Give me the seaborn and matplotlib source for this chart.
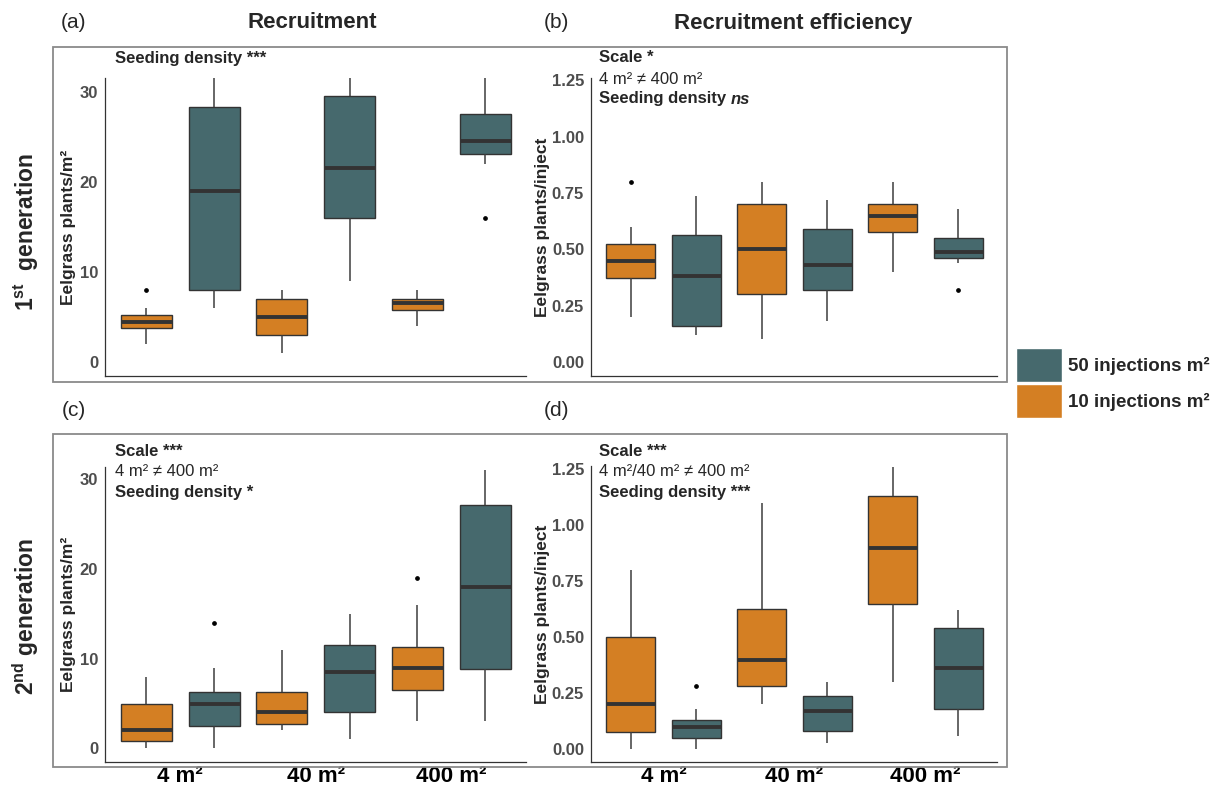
import pandas as pd
import matplotlib
matplotlib.use("Agg")
import matplotlib.pyplot as plt
from matplotlib.patches import Patch, Rectangle
import seaborn as sns

# categories
scales = ["4 m²", "40 m²", "400 m²"]
densities = ["10 injections m²", "50 injections m²"]
orange = "#D47F23"
teal = "#46696D"

# observations per box (4 m², 40 m², 400 m²), read off the figure
# (a) recruitment, 1st generation (plants/m²)
rec1_10 = [[2, 3.75, 3.75, 4.5, 4.5, 5.25, 5.25, 6, 8],
           [1, 3, 5, 7, 8],
           [4, 5.75, 6.5, 7, 8]]
rec1_50 = [[6, 8, 19, 28.3, 31.5],
           [9, 16, 21.5, 29.5, 31.5],
           [16, 22, 23.1, 24.5, 24.5, 27.5, 27.5, 27.5, 31.5]]

# (b) recruitment efficiency, 1st generation (plants/inject)
eff1_10 = [[0.2, 0.375, 0.375, 0.45, 0.45, 0.525, 0.525, 0.6, 0.8],
           [0.1, 0.3, 0.5, 0.7, 0.8],
           [0.4, 0.575, 0.65, 0.7, 0.8]]
eff1_50 = [[0.12, 0.16, 0.38, 0.565, 0.735],
           [0.18, 0.32, 0.43, 0.59, 0.72],
           [0.32, 0.44, 0.46, 0.49, 0.49, 0.55, 0.55, 0.55, 0.68]]

# (c) recruitment, 2nd generation
rec2_10 = [[0, 0.8, 2, 5, 8],
           [2, 2.75, 4, 6.25, 11],
           [3, 6.5, 6.5, 9, 9, 11.25, 11.25, 16, 19]]
rec2_50 = [[0, 2.5, 2.5, 5, 5, 6.25, 6.25, 9, 14],
           [1, 4, 8.5, 11.5, 15],
           [3, 8.8, 18, 27.1, 31]]

# (d) recruitment efficiency, 2nd generation
eff2_10 = [[0, 0.075, 0.2, 0.5, 0.8],
           [0.2, 0.28, 0.4, 0.625, 1.1],
           [0.3, 0.65, 0.9, 1.13, 1.26]]
eff2_50 = [[0, 0.05, 0.05, 0.1, 0.1, 0.13, 0.13, 0.18, 0.28],
           [0.025, 0.08, 0.17, 0.235, 0.3],
           [0.06, 0.18, 0.36, 0.54, 0.62]]

rec_ticks = [0, 10, 20, 30]
eff_ticks = [0, 0.25, 0.5, 0.75, 1.0, 1.25]


def to_long(obs10, obs50):
    rows = []
    for dens, obs in zip(densities, [obs10, obs50]):
        for sc, vals in zip(scales, obs):
            for v in vals:
                rows.append({"scale": sc, "density": dens, "value": v})
    return pd.DataFrame(rows)


sns.set_style("white")
plt.rcParams["font.family"] = ["Liberation Sans", "DejaVu Sans"]
plt.rcParams["mathtext.fontset"] = "custom"
plt.rcParams["mathtext.rm"] = "Liberation Sans"
plt.rcParams["mathtext.bf"] = "Liberation Sans:bold"

W, H = 1222, 787
fig = plt.figure(figsize=(W / 100, H / 100), dpi=100)


def rect(l, t, r, b):
    return [l / W, 1 - b / H, (r - l) / W, (b - t) / H]


def ftext(x, y, s, **kw):
    return fig.text(x / W, 1 - y / H, s, **kw)


panels = [
    (rect(105, 78.3, 525.9, 376), to_long(rec1_10, rec1_50), (-1.55, 31.5), rec_ticks,
     "Eelgrass plants/m²", -0.069, False),
    (rect(591, 78.3, 997.3, 376), to_long(eff1_10, eff1_50), (-0.062, 1.259), eff_ticks,
     "Eelgrass plants/inject", -0.102, False),
    (rect(105, 467.3, 525.9, 761.7), to_long(rec2_10, rec2_50), (-1.49, 31.34), rec_ticks,
     "Eelgrass plants/m²", -0.069, True),
    (rect(591, 466, 997.3, 762), to_long(eff2_10, eff2_50), (-0.058, 1.265), eff_ticks,
     "Eelgrass plants/inject", -0.102, True),
]

line_c = "#333333"
for pos, df, ylim, yticks, ylab, ylab_x, show_x in panels:
    ax = fig.add_axes(pos)
    sns.boxplot(data=df, x="scale", y="value", hue="density",
                order=scales, hue_order=densities,
                palette={densities[0]: orange, densities[1]: teal},
                saturation=1, width=1.0, gap=0.25, linewidth=1.0, linecolor=line_c,
                fliersize=3, legend=False, ax=ax,
                medianprops={"linewidth": 2.8, "color": line_c},
                whiskerprops={"linewidth": 1.1, "color": "#3d3d3d"},
                capprops={"visible": False},
                flierprops={"marker": "o", "markerfacecolor": "black",
                            "markeredgecolor": "black", "markersize": 2.4})
    ax.set_xlim(-0.555, 2.55)
    ax.set_ylim(*ylim)
    ax.set_yticks(yticks)
    if yticks == eff_ticks:
        ax.set_yticklabels([f"{v:.2f}" for v in yticks], fontweight="bold")
    else:
        ax.set_yticklabels([str(v) for v in yticks], fontweight="bold")
    ax.set_xticks([0, 1, 2])
    ax.set_xticklabels(scales if show_x else ["", "", ""],
                       fontsize=16, fontweight="bold", color="black")
    ax.set_xticks([-0.25, 0.25, 0.75, 1.25, 1.75, 2.25], minor=True)
    ax.tick_params(axis="x", which="major", length=0, pad=3)
    ax.tick_params(axis="x", which="minor", length=3, width=0.8, color=line_c)
    ax.tick_params(axis="y", length=3, width=0.8, color=line_c,
                   labelsize=12, labelcolor="#4D4D4D", pad=2)
    ax.set_xlabel("")
    ax.set_ylabel(ylab, fontsize=12.5, fontweight="bold")
    ax.yaxis.set_label_coords(ylab_x, 0.5)
    for s in ["top", "right"]:
        ax.spines[s].set_visible(False)
    for s in ["left", "bottom"]:
        ax.spines[s].set_color(line_c)
        ax.spines[s].set_linewidth(0.9)
    ax.set_facecolor("none")

# panel frames
for top, bot in [(47, 381.7), (433.7, 766.7)]:
    fig.add_artist(Rectangle((53.4 / W, 1 - bot / H), (1006.7 - 53.4) / W, (bot - top) / H,
                             transform=fig.transFigure, fill=False,
                             edgecolor="#8a8a8a", linewidth=1.3))

# titles and panel letters
ftext(73, 23, "(a)", fontsize=15, ha="center", va="center")
ftext(556, 23, "(b)", fontsize=15, ha="center", va="center")
ftext(73.4, 410, "(c)", fontsize=15, ha="center", va="center")
ftext(556.7, 411, "(d)", fontsize=15, ha="center", va="center")
ftext(312, 23, "Recruitment", fontsize=16, fontweight="bold", ha="center", va="center")
ftext(793, 23, "Recruitment efficiency", fontsize=16, fontweight="bold", ha="center", va="center")

ftext(26, 232, r"1$^{\mathbf{st}}$  generation", fontsize=16.5, fontweight="bold",
      rotation=90, ha="center", va="center")
ftext(26, 617, r"2$^{\mathbf{nd}}$ generation", fontsize=16.5, fontweight="bold",
      rotation=90, ha="center", va="center")

# statistics annotations
ann = dict(fontsize=12, va="center", ha="left")
ftext(114.7, 59, "Seeding density ***", fontweight="bold", **ann)

ftext(599, 58, "Scale *", fontweight="bold", **ann)
ftext(599, 79, "4 m² ≠ 400 m²", **ann)
t = ftext(599, 99, "Seeding density", fontweight="bold", **ann)
fig.axes[1].annotate("ns", xy=(1, 0), xycoords=t, xytext=(3.3, 0),
                     textcoords="offset points", fontsize=12, fontweight="bold",
                     fontstyle="italic", va="bottom", ha="left", annotation_clip=False)

ftext(114.7, 451, "Scale ***", fontweight="bold", **ann)
ftext(114.7, 471, "4 m² ≠ 400 m²", **ann)
ftext(114.7, 492, "Seeding density *", fontweight="bold", **ann)

ftext(599, 451, "Scale ***", fontweight="bold", **ann)
ftext(599, 471, "4 m²/40 m² ≠ 400 m²", **ann)
ftext(599, 492, "Seeding density ***", fontweight="bold", **ann)

# legend
handles = [Patch(facecolor=teal, label="50 injections m²"),
           Patch(facecolor=orange, label="10 injections m²")]
fig.legend(handles=handles, loc="upper left", bbox_to_anchor=(1016 / W, 1 - 348 / H),
           frameon=False, prop={"size": 13.5, "weight": "bold"},
           handlelength=2.45, handleheight=2.4, handletextpad=0.3,
           labelspacing=0.13, borderpad=0, borderaxespad=0)

fig.savefig("out.png", dpi=100)
plt.close(fig)
